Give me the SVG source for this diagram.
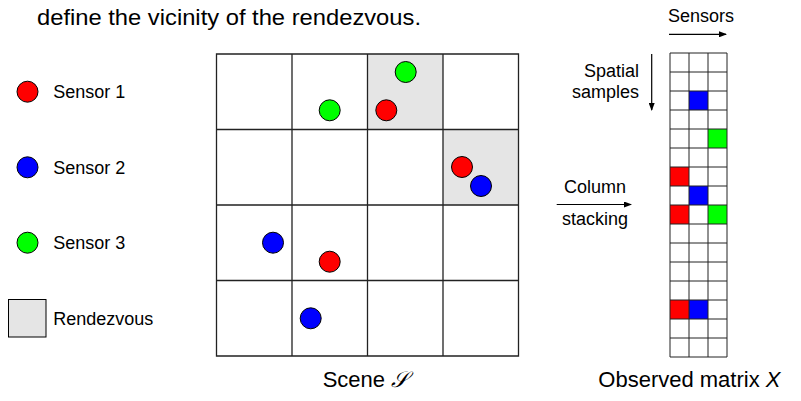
<svg xmlns="http://www.w3.org/2000/svg" width="801" height="401" viewBox="0 0 801 401">
<defs>
<style>
text{font-family:"Liberation Sans",Arial,sans-serif;fill:#000}
.lbl{font-size:18px}
.big{font-size:22px}
.s1{fill:#ff0000;stroke:#000;stroke-width:1}
.s2{fill:#0000ff;stroke:#000;stroke-width:1}
.s3{fill:#00ff00;stroke:#000;stroke-width:1}
.rz{fill:#e5e5e5}
.gl{stroke:#222;stroke-width:1.3;fill:none}
.ml{stroke:#222;stroke-width:1;fill:none}
.arr{stroke:#000;stroke-width:1.2;fill:none;marker-end:url(#ah)}
</style>
<marker id="ah" markerWidth="8" markerHeight="6" refX="7" refY="3" orient="auto" markerUnits="userSpaceOnUse">
<path d="M0,0 L8,3 L0,6 z" fill="#000"/>
</marker>
</defs>
<rect width="801" height="401" fill="#fff"/>
<text class="big" x="37" y="25" textLength="384" lengthAdjust="spacingAndGlyphs">define the vicinity of the rendezvous.</text>

<g id="legend">
<g id="legend-sensor1"><circle class="s1" cx="27.5" cy="91.7" r="10.5"/><text class="lbl" x="53.3" y="98.3">Sensor 1</text></g>
<g id="legend-sensor2"><circle class="s2" cx="27.5" cy="167.3" r="10.5"/><text class="lbl" x="53.3" y="174">Sensor 2</text></g>
<g id="legend-sensor3"><circle class="s3" cx="27.5" cy="242.7" r="10.5"/><text class="lbl" x="53.3" y="249.3">Sensor 3</text></g>
<g id="legend-rendezvous"><rect class="rz" x="8.5" y="299.5" width="37.5" height="37.5" stroke="#000" stroke-width="1"/><text class="lbl" x="53.3" y="325">Rendezvous</text></g>
</g>

<g id="scene">
<rect class="rz" x="367.5" y="54" width="75.5" height="75.5"/>
<rect class="rz" x="443" y="129.5" width="75.5" height="75.5"/>
<path class="gl" d="M216.5,54H518.5V356H216.5Z M292,54V356 M367.5,54V356 M443,54V356 M216.5,129.5H518.5 M216.5,205H518.5 M216.5,280.5H518.5"/>
<circle class="s3" cx="405.7" cy="72" r="10.5"/>
<circle class="s3" cx="329.7" cy="110.3" r="10.5"/>
<circle class="s1" cx="386.3" cy="110.3" r="10.5"/>
<circle class="s1" cx="462" cy="167" r="10.5"/>
<circle class="s2" cx="481" cy="186" r="10.5"/>
<circle class="s2" cx="273" cy="242.7" r="10.5"/>
<circle class="s1" cx="329.7" cy="261.7" r="10.5"/>
<circle class="s2" cx="310.7" cy="318.3" r="10.5"/>
<text class="big" x="322.7" y="387">Scene <tspan font-family="'DejaVu Serif',serif" font-style="italic">𝒮</tspan></text>
</g>

<g id="matrix">
<rect x="689" y="91" width="19" height="19" fill="#0000ff"/>
<rect x="708" y="129" width="19" height="19" fill="#00ff00"/>
<rect x="670" y="167" width="19" height="19" fill="#ff0000"/>
<rect x="689" y="186" width="19" height="19" fill="#0000ff"/>
<rect x="670" y="205" width="19" height="19" fill="#ff0000"/>
<rect x="708" y="205" width="19" height="19" fill="#00ff00"/>
<rect x="670" y="300" width="19" height="19" fill="#ff0000"/>
<rect x="689" y="300" width="19" height="19" fill="#0000ff"/>
<path class="ml" d="M670,53H727V357H670Z M689,53V357 M708,53V357 M670,72H727 M670,91H727 M670,110H727 M670,129H727 M670,148H727 M670,167H727 M670,186H727 M670,205H727 M670,224H727 M670,243H727 M670,262H727 M670,281H727 M670,300H727 M670,319H727 M670,338H727"/>
<text class="big" x="598.3" y="387">Observed matrix <tspan font-style="italic">X</tspan></text>
</g>

<g id="labels">
<text class="lbl" x="701" y="22" text-anchor="middle">Sensors</text>
<text class="lbl" x="639" y="77" text-anchor="end">Spatial</text>
<text class="lbl" x="639" y="98" text-anchor="end">samples</text>
<text class="lbl" x="595" y="193" text-anchor="middle">Column</text>
<text class="lbl" x="595" y="225" text-anchor="middle">stacking</text>
</g>

<g id="connectors">
<line class="arr" x1="669" y1="34.3" x2="726" y2="34.3"/>
<line class="arr" x1="651.7" y1="54" x2="651.7" y2="110"/>
<line class="arr" x1="556.7" y1="204.5" x2="631" y2="204.5"/>
</g>
</svg>
